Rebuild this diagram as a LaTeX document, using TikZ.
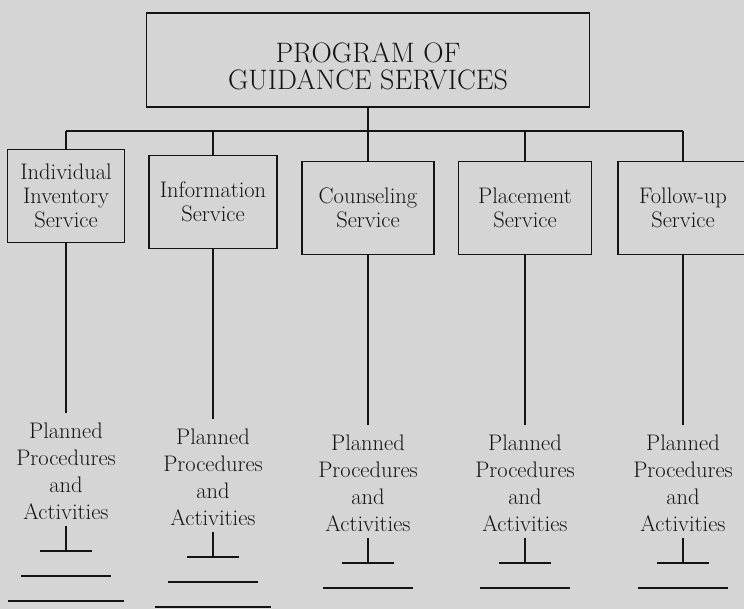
\documentclass[tikz,border=0pt]{standalone}
\definecolor{paper}{RGB}{213,213,213}
\definecolor{ink}{RGB}{20,20,20}
\begin{document}
\begin{tikzpicture}[x=0.025cm,y=-0.025cm,line width=1.3pt,color=ink,
        box/.style={draw,align=center,inner sep=2pt,minimum height=2.325cm,font=\fontsize{16}{17}\selectfont},
        plan/.style={align=center,inner sep=6pt,font=\fontsize{16}{19.2}\selectfont}]
        \clip(0,0)rectangle(744,609);
        \fill[paper](0,0)rectangle(744,609);
        \node[draw,align=center,minimum width=11.075cm,minimum height=2.35cm,text height=42pt,
            font=\fontsize{20}{19.2}\selectfont](0)at(368,60){PROGRAM OF\\GUIDANCE SERVICES};
        \coordinate(21)at(66,131);
        \coordinate(22)at(213,131);
        \coordinate(23)at(368,131);
        \coordinate(24)at(525,131);
        \coordinate(25)at(683,131);
        \node[box,minimum width=2.925cm](1)at(66,196){Individual\\Inventory\\Service};
        \node[box,minimum width=3.2cm](2)at(213,202){Information\\Service};
        \node[box,minimum width=3.3cm](3)at(368,208){Counseling\\Service};
        \node[box,minimum width=3.325cm](4)at(525,208){Placement\\Service};
        \node[box,minimum width=3.25cm](5)at(683,208){Follow-up\\Service};
        \node[plan](11)at(66,471){Planned\\Procedures\\and\\Activities};
        \node[plan](12)at(213,477){Planned\\Procedures\\and\\Activities};
        \node[plan](13)at(368,483){Planned\\Procedures\\and\\Activities};
        \node[plan](14)at(525,483){Planned\\Procedures\\and\\Activities};
        \node[plan](15)at(683,483){Planned\\Procedures\\and\\Activities};
        \draw(0)--(23);
        \draw(21)--(25);
        \draw(21)--(1);
        \draw(22)--(2);
        \draw(23)--(3);
        \draw(24)--(4);
        \draw(25)--(5);
        \draw(1)--(11);
        \draw(2)--(12);
        \draw(3)--(13);
        \draw(4)--(14);
        \draw(5)--(15);
        % T marks and rules under the activities
        \draw(66,526)--(66,551)(40,551)--(92,551)(21,576)--(111,576)(8,601)--(124,601);
        \draw(213,532)--(213,557)(187,557)--(239,557)(168,582)--(258,582)(155,607)--(271,607);
        \draw(368,538)--(368,563)(342,563)--(394,563)(323,588)--(413,588);
        \draw(525,538)--(525,563)(499,563)--(551,563)(480,588)--(570,588);
        \draw(683,538)--(683,563)(657,563)--(709,563)(638,588)--(728,588);
\end{tikzpicture}
\end{document}
